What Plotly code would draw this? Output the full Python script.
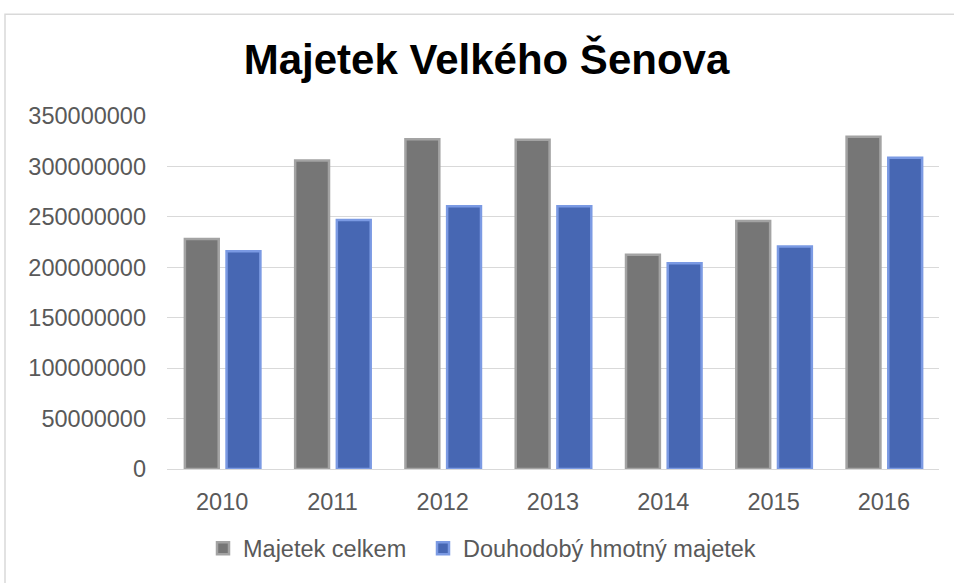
import plotly.graph_objects as go

years = ["2010", "2011", "2012", "2013", "2014", "2015", "2016"]
majetek_celkem = [228000000, 306000000, 327000000, 326500000, 212500000, 246000000, 329500000]
dlouhodoby = [216000000, 247000000, 260500000, 260500000, 204000000, 220500000, 308500000]
series_names = ["Majetek celkem", "Douhodobý hmotný majetek"]
y_ticks = [0, 50000000, 100000000, 150000000, 200000000, 250000000, 300000000, 350000000]

W, H = 954, 583
L, R, T, B = 167, 15, 116, 110
FONT = "Liberation Sans, Arial, sans-serif"
PW = W - L - R

fig = go.Figure()
fig.add_trace(go.Bar(
    x=years, y=majetek_celkem, name=series_names[0],
    offset=-0.338, width=0.307, legend="legend",
    marker=dict(color="#767676", line=dict(color="#a3a3a3", width=2.5)),
))
fig.add_trace(go.Bar(
    x=years, y=dlouhodoby, name=series_names[1],
    offset=0.04, width=0.307, legend="legend2",
    marker=dict(color="#4767b3", line=dict(color="#7b9ae3", width=2.5)),
))

legend_common = dict(
    orientation="h", xanchor="left", y=-0.225, yanchor="middle",
    font=dict(size=23.5, color="#595959"), bgcolor="rgba(0,0,0,0)",
)

fig.update_layout(
    width=W, height=H,
    margin=dict(l=L, r=R, t=T, b=B),
    paper_bgcolor="white", plot_bgcolor="white",
    barmode="overlay",
    font=dict(family=FONT, color="#595959", size=23),
    title=dict(
        text="<b>Majetek Velkého Šenova</b>",
        font=dict(family=FONT, size=42, color="black"),
        x=486.5 / W, xanchor="center", xref="container",
        y=1 - 59 / H, yanchor="middle", yref="container",
    ),
    xaxis=dict(
        type="category", showgrid=False, ticks="", tickfont=dict(size=23.5, color="#595959"),
        ticklabelstandoff=16, showline=False,
    ),
    yaxis=dict(
        range=[0, 350000000], tickvals=y_ticks, tickformat="d",
        showgrid=True, gridcolor="#d9d9d9", gridwidth=1.3,
        zeroline=True, zerolinecolor="#d9d9d9", zerolinewidth=1.3,
        ticks="", tickfont=dict(size=23.5, color="#595959"), ticklabelstandoff=20,
    ),
    legend=dict(x=(203 - L) / PW, **legend_common),
    legend2=dict(x=(423 - L) / PW, **legend_common),
    showlegend=True,
    shapes=[dict(
        type="rect", xref="paper", yref="paper",
        x0=(5 - L) / PW, x1=1.2,
        y0=-0.5, y1=(H - B - 13) / (H - T - B),
        line=dict(color="#d9d9d9", width=1.5), fillcolor="rgba(0,0,0,0)", layer="below",
    )],
)

fig.write_html("out.html", config={"displayModeBar": False},
               post_script="document.body.style.margin='0';")
